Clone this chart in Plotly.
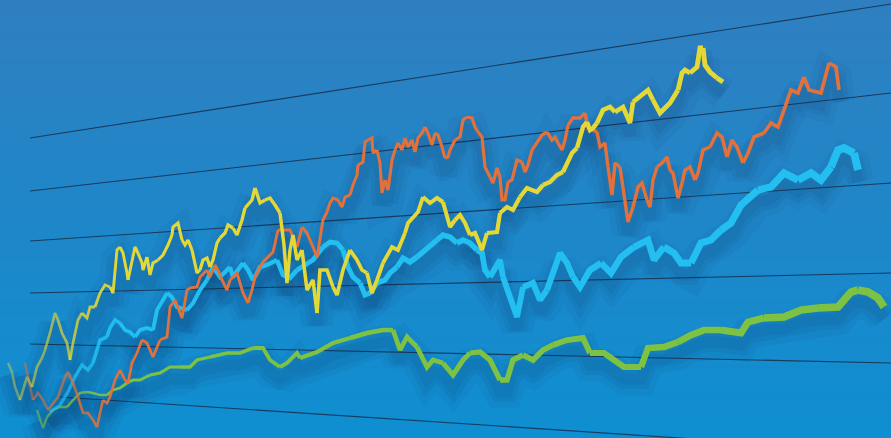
import numpy as np
import plotly.graph_objects as go

# ---- data (pixel-like units: x to the right, y downward) ----
yellow_x = [8,12,15,20,23,27,32,37,42,45,50,55,58,62,67,70,73,78,82,87,90,95,100,105,110,113,117,120,123,127,128,132,135,138,142,143,147,150,153,158,163,168,172,173,178,182,185,188,192,195,197,200,203,207,210,213,217,220,225,228,233,237,242,245,248,252,255,258,260,265,270,275,280,284,287,290,293,297,302,307,313,317,320,327,333,337,343,350,357,362,367,372,377,383,392,398,405,408,418,423,430,437,443,447,450,455,460,465,470,475,482,487,490,497,500,507,513,520,527,537,543,550,557,563,568,572,577,580,583,587,590,593,597,603,610,615,623,630,633,640,648,653,660,670,678,682,685,690,697,700,703,705,710,717,723]
yellow_y = [363,372,387,400,390,377,387,367,358,350,333,313,320,333,343,360,343,320,313,318,307,307,293,285,287,293,250,247,253,273,280,260,247,253,263,270,257,275,263,260,255,245,235,227,223,240,245,240,250,263,273,270,260,258,267,260,243,238,233,225,228,235,220,208,205,200,188,198,203,200,198,205,213,245,283,250,235,260,250,290,280,313,270,270,287,295,270,250,260,270,273,293,280,263,247,250,233,223,212,197,203,198,202,217,227,220,215,223,235,233,250,233,233,232,213,207,210,197,188,192,185,182,175,172,162,153,148,138,127,122,130,128,123,110,107,112,107,123,102,97,90,100,113,103,90,73,70,73,67,48,48,65,72,78,82]

orange_x = [25,28,30,33,38,43,48,53,58,65,68,73,78,83,88,93,97,100,103,107,110,115,120,125,128,132,137,142,147,153,160,167,170,175,182,187,190,197,200,207,210,215,218,222,227,230,237,243,248,252,255,260,263,273,278,290,297,302,307,313,317,320,323,327,330,333,338,342,345,350,353,357,358,363,365,368,372,373,377,380,382,385,388,392,395,398,402,405,408,412,415,418,422,425,428,432,435,438,442,445,448,450,455,460,463,467,472,475,478,482,485,490,493,497,500,502,505,508,512,517,522,525,528,532,537,542,547,552,555,558,562,565,568,573,580,585,588,593,597,600,605,608,612,615,620,623,628,633,638,642,647,650,653,657,662,667,670,673,678,682,685,690,695,698,703,710,717,722,727,732,737,743,748,754,764,771,778,784,791,798,804,809,821,829,836,839]
orange_y = [363,377,387,400,393,400,410,403,397,377,372,383,397,413,413,420,427,413,400,403,397,380,370,380,383,363,353,340,343,357,340,337,307,300,318,290,288,287,277,270,277,265,270,280,290,280,273,293,303,290,277,267,262,252,230,230,247,227,233,247,257,237,220,212,203,198,200,207,197,195,185,175,165,162,142,140,138,153,150,163,193,180,190,160,150,143,150,138,147,140,152,138,133,127,133,145,133,135,147,158,157,150,140,137,120,117,118,127,132,137,167,177,183,168,177,200,200,182,180,160,162,172,165,150,143,135,132,140,137,143,150,140,125,118,118,113,128,130,132,147,143,167,195,163,167,187,222,207,187,183,200,207,180,167,163,157,170,173,198,183,170,167,180,173,150,147,133,137,157,140,147,163,153,137,133,123,127,110,90,93,77,90,93,63,67,90]

cyan_x = [50,60,68,75,82,88,93,97,100,107,110,115,120,125,130,135,140,147,153,157,163,167,172,177,187,193,200,207,213,220,230,233,240,243,248,253,257,260,267,277,283,290,297,307,313,323,330,337,343,348,353,360,365,370,377,385,390,397,403,410,417,423,430,437,443,450,457,463,470,477,482,485,490,495,500,503,510,517,523,533,540,547,560,567,573,580,590,601,611,621,634,648,654,664,674,681,691,701,711,721,731,741,758,771,784,798,811,821,831,838,844,854,858]
cyan_y = [412,405,392,377,365,370,363,350,340,337,328,320,323,330,332,337,330,328,330,310,300,293,297,307,310,303,290,280,267,277,267,277,267,263,270,280,273,267,265,260,275,278,270,263,260,247,242,243,250,267,277,283,295,293,283,280,273,267,258,262,257,252,247,240,235,237,243,240,243,250,253,270,277,267,260,277,297,317,287,283,300,290,253,263,277,287,270,263,273,257,247,240,260,247,253,263,263,243,240,230,223,205,190,187,173,180,173,180,167,150,148,153,170]

green_x = [37,40,43,47,53,60,67,73,80,87,93,100,107,113,120,127,133,140,150,160,170,180,190,197,210,227,240,253,263,270,280,287,297,300,317,333,350,367,383,393,400,407,417,427,433,443,453,463,470,480,490,500,507,513,523,533,543,553,567,583,590,604,624,641,648,664,678,691,704,721,741,748,764,784,801,818,838,851,858,868,878,884]
green_y = [410,420,428,417,410,407,407,400,393,392,393,395,395,390,388,383,380,380,375,373,367,367,367,360,357,353,353,348,348,360,367,363,353,358,352,343,338,333,330,330,350,337,347,367,360,363,375,360,353,352,360,380,380,360,355,360,350,345,340,338,353,353,367,367,348,347,342,335,330,330,333,322,318,317,310,308,307,292,290,292,298,307]

# ---- styling ----
W, H = 891, 438
BG_TOP, BG_BOTTOM = "#2f7fc0", "#0e8fd1"
GRID_LINES = [((30, 138), (891, 4)), ((30, 191), (891, 93)), ((30, 241), (891, 183)),
              ((30, 293), (891, 273)), ((30, 344), (891, 363)), ((60, 397), (891, 452))]

series = [
    (green_x, green_y, "#7dc243", 2.0, 8.0),
    (cyan_x, cyan_y, "#22bff0", 3.0, 8.0),
    (orange_x, orange_y, "#e2713b", 2.5, 3.8),
    (yellow_x, yellow_y, "#e4d837", 2.5, 5.5),
]

fig = go.Figure()

# background gradient
gy = np.linspace(0, H, 30)
fig.add_trace(go.Heatmap(
    x=[-5, W + 5], y=gy, z=[[v, v] for v in gy], zsmooth="best",
    colorscale=[[0, BG_TOP], [1, BG_BOTTOM]], showscale=False, hoverinfo="skip"))

# perspective grid lines
for (x0, y0), (x1, y1) in GRID_LINES:
    fig.add_trace(go.Scatter(x=[x0, x1], y=[y0, y1], mode="lines",
                             line=dict(color="rgba(22,40,66,0.8)", width=1.1),
                             hoverinfo="skip"))

# soft shadows below the lines
for xs, ys, col, w0, w1 in series:
    sy = [v + 12 for v in ys]
    for w, a in [(32, 0.05), (20, 0.07), (11, 0.08)]:
        fig.add_trace(go.Scatter(x=xs, y=sy, mode="lines",
                                 line=dict(color=f"rgba(15,45,90,{a})", width=w),
                                 hoverinfo="skip"))

# lines: width grows to the right (perspective), fade in from the left
for xs, ys, col, w0, w1 in series:
    n = len(xs)
    step = 3
    for i in range(0, n - 1, step):
        j = min(i + step, n - 1)
        xm = 0.5 * (xs[i] + xs[j])
        w = w0 + (w1 - w0) * xm / W
        op = min(1.0, 0.35 + 0.65 * xm / 120)
        fig.add_trace(go.Scatter(x=xs[i:j + 1], y=ys[i:j + 1], mode="lines",
                                 line=dict(color=col, width=w), opacity=op,
                                 hoverinfo="skip"))

fig.update_layout(
    width=W, height=H, margin=dict(l=0, r=0, t=0, b=0),
    paper_bgcolor=BG_BOTTOM, plot_bgcolor=BG_BOTTOM, showlegend=False,
    xaxis=dict(range=[0, W], visible=False, fixedrange=True),
    yaxis=dict(range=[H, 0], visible=False, fixedrange=True),
)
fig.write_html("out.html", config={"displayModeBar": False},
               post_script="document.body.style.margin='0';document.body.style.overflow='hidden';")
